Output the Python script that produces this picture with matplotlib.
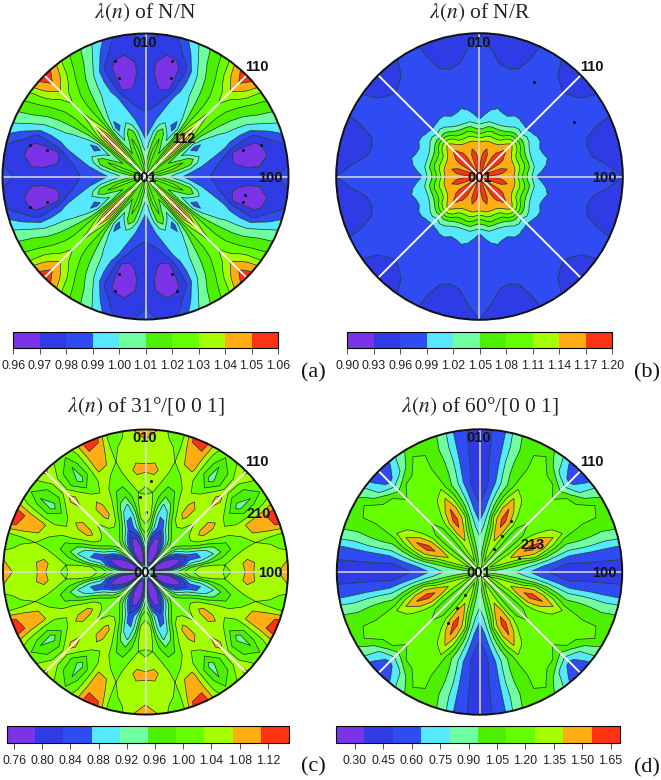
import numpy as np
import matplotlib
matplotlib.use("Agg")
import matplotlib.pyplot as plt
from matplotlib.patches import Circle

W, H = 661, 780
plt.rcParams['mathtext.fontset'] = 'stix'

radii = [0, .08, .16, .24, .32, .40, .48, .56, .64, .72, .80, .90, 1.0]
thetas = [0, 5, 10, 15, 20, 25, 30, 35, 40, 45]

values_a = [
 [1.020,1.020,1.020,1.020,1.020,1.020,1.020,1.020,1.020,1.020],
 [1.008,1.015,1.020,1.025,1.020,1.020,1.020,1.020,1.025,1.030],
 [1.002,1.005,1.015,1.022,1.020,1.015,1.012,1.018,1.032,1.042],
 [0.992,0.998,1.008,1.018,1.022,1.012,1.005,1.014,1.034,1.052],
 [0.985,0.990,1.000,1.012,1.018,1.005,0.997,1.008,1.036,1.058],
 [0.982,0.985,0.990,0.995,1.000,0.992,0.985,1.003,1.032,1.056],
 [0.979,0.980,0.984,0.990,0.994,0.993,0.994,1.006,1.025,1.042],
 [0.976,0.975,0.975,0.983,0.993,0.996,0.999,1.010,1.022,1.033],
 [0.975,0.972,0.968,0.968,0.986,0.995,1.002,1.012,1.021,1.030],
 [0.975,0.970,0.964,0.965,0.980,0.994,1.004,1.014,1.022,1.030],
 [0.975,0.970,0.965,0.966,0.976,0.995,1.007,1.017,1.026,1.035],
 [0.978,0.975,0.973,0.976,0.988,1.002,1.013,1.022,1.037,1.048],
 [0.985,0.980,0.975,0.984,0.996,1.006,1.016,1.026,1.046,1.058],
]
values_b = [
 [1.180,1.180,1.180,1.180,1.180,1.180,1.180,1.180,1.180,1.180],
 [1.160,1.175,1.180,1.185,1.175,1.160,1.160,1.175,1.190,1.195],
 [1.155,1.165,1.175,1.190,1.170,1.155,1.160,1.180,1.190,1.195],
 [1.140,1.145,1.150,1.150,1.150,1.150,1.155,1.160,1.165,1.180],
 [1.060,1.065,1.080,1.085,1.080,1.080,1.085,1.110,1.130,1.140],
 [0.990,1.000,1.010,1.005,1.005,1.010,1.020,1.030,1.040,1.030],
 [0.975,0.978,0.988,0.992,0.988,0.985,0.992,0.992,0.988,0.982],
 [0.970,0.970,0.975,0.978,0.975,0.972,0.975,0.975,0.972,0.970],
 [0.968,0.968,0.968,0.968,0.968,0.968,0.968,0.968,0.968,0.968],
 [0.965,0.965,0.965,0.965,0.965,0.965,0.965,0.965,0.965,0.965],
 [0.962,0.962,0.960,0.958,0.960,0.964,0.966,0.966,0.964,0.962],
 [0.962,0.960,0.955,0.950,0.955,0.962,0.964,0.962,0.958,0.954],
 [0.960,0.958,0.950,0.945,0.950,0.960,0.962,0.960,0.952,0.945],
]
values_c = [
 [1.00,1.00,1.00,1.00,1.00,1.00,1.00,1.00,1.00,1.00],
 [0.96,0.84,0.78,0.77,0.76,0.77,0.78,0.84,0.92,0.96],
 [0.93,0.84,0.78,0.77,0.76,0.77,0.79,0.83,0.93,0.97],
 [0.97,0.92,0.82,0.79,0.78,0.80,0.85,0.90,0.97,1.00],
 [1.02,1.00,0.92,0.87,0.84,0.90,0.95,0.99,1.01,1.01],
 [1.07,1.04,0.93,0.87,0.88,0.96,1.02,1.04,1.03,1.02],
 [1.07,1.04,0.97,0.90,0.93,1.00,1.06,1.085,1.05,1.03],
 [1.02,1.03,1.00,0.96,0.98,1.03,1.05,1.09,1.06,1.04],
 [1.04,1.05,1.03,1.00,1.00,1.04,1.03,1.05,1.07,1.07],
 [1.08,1.085,1.05,1.02,1.03,1.05,1.01,0.99,1.04,1.09],
 [1.06,1.06,1.05,1.03,1.07,1.08,1.00,0.93,0.98,1.05],
 [1.06,1.05,1.04,1.02,1.09,1.10,1.02,0.95,0.99,1.05],
 [1.09,1.07,1.02,1.01,1.12,1.13,1.04,1.00,1.03,1.08],
]
values_d = [
 [1.00,1.00,1.00,1.00,1.00,1.00,1.00,1.00,1.00,1.00],
 [0.92,0.95,1.00,1.10,1.20,1.25,1.20,1.10,1.05,1.05],
 [0.88,0.92,1.00,1.15,1.27,1.32,1.25,1.15,1.08,1.05],
 [0.82,0.87,0.98,1.14,1.32,1.40,1.30,1.15,1.08,1.05],
 [0.70,0.80,0.95,1.15,1.40,1.52,1.42,1.20,1.08,1.05],
 [0.58,0.70,0.90,1.28,1.48,1.62,1.48,1.28,1.10,1.08],
 [0.50,0.60,0.82,1.10,1.40,1.56,1.40,1.22,1.12,1.10],
 [0.45,0.52,0.72,0.95,1.22,1.42,1.28,1.18,1.12,1.10],
 [0.42,0.48,0.64,0.86,1.02,1.25,1.20,1.18,1.15,1.12],
 [0.40,0.50,0.64,0.88,1.03,1.13,1.12,1.12,1.12,1.10],
 [0.43,0.50,0.64,0.88,1.02,1.10,1.12,1.15,1.10,0.95],
 [0.46,0.50,0.63,0.85,1.00,1.10,1.15,0.95,0.72,0.60],
 [0.48,0.50,0.62,0.88,1.02,1.10,1.00,0.85,0.62,0.50],
]

levels_a = [0.96,0.97,0.98,0.99,1.00,1.01,1.02,1.03,1.04,1.05,1.06]
levels_b = [0.90,0.93,0.96,0.99,1.02,1.05,1.08,1.11,1.14,1.17,1.20]
levels_c = [0.75,0.79,0.83,0.87,0.91,0.95,0.99,1.03,1.07,1.11,1.15]
levels_d = [0.20,0.35,0.50,0.65,0.80,0.95,1.10,1.25,1.40,1.55,1.70]
ticks_a = levels_a
ticks_b = levels_b
ticks_c = [0.76,0.80,0.84,0.88,0.92,0.96,1.00,1.04,1.08,1.12]
ticks_d = [0.30,0.45,0.60,0.75,0.90,1.05,1.20,1.35,1.50,1.65]

dots_a_x = [-.215,-.187,.182,.178,-.811,-.687,.685,.808,.696,.685,-.687,-.806,-.187,-.215,.182,.217]
dots_a_y = [.811,.689,.811,.689,.217,.187,.187,.217,-.129,-.18,-.18,-.21,-.684,-.801,-.684,-.801]
dots_b_x = [.38,.66]
dots_b_y = [.66,.38]
dots_c_x = [-.04,.04,0.0]
dots_c_y = [.525,.64,.42]
dots_d_x = [.10,.16,.22,.28,-.10,-.16,-.22]
dots_d_y = [.16,.25,.36,.10,-.16,-.25,-.36]

band_colors = ['#7a33e6','#2f3ce6','#2f4cf2','#55e8ff','#70ffa0',
               '#4cf000','#66ff00','#a6ff00','#ffad12','#ff3312']

panels = [
 dict(v=values_a, lv=levels_a, tk=ticks_a, d=(dots_a_x,dots_a_y), c=(145.5,176.5), R=143,
      title=r'$\lambda(n)$ of N/N', ty=13, cb=(13.3,278,332,348), tag='(a)', tagpos=(313,373),
      poles=[('010',145,43),('110',257,67),('100',270,178),('001',145,178),('112',184,139)]),
 dict(v=values_b, lv=levels_b, tk=ticks_b, d=(dots_b_x,dots_b_y), c=(479.5,176.5), R=143.3,
      title=r'$\lambda(n)$ of N/R', ty=13, cb=(347.3,612,332,348), tag='(b)', tagpos=(647,373),
      poles=[('010',479,43),('110',592,67),('100',604,178),('001',480,178)]),
 dict(v=values_c, lv=levels_c, tk=ticks_c, d=(dots_c_x,dots_c_y), c=(145.5,572), R=142.5,
      title=r'$\lambda(n)$ of 31°/[0 0 1]', ty=407, cb=(7,289,726,743), tag='(c)', tagpos=(313,767),
      poles=[('010',145,438),('110',257,462),('100',270,573),('210',259,514),('001',145.6,573)]),
 dict(v=values_d, lv=levels_d, tk=ticks_d, d=(dots_d_x,dots_d_y), c=(479.5,572), R=142.7,
      title=r'$\lambda(n)$ of 60°/[0 0 1]', ty=407, cb=(336,620,726,743), tag='(d)', tagpos=(647,768),
      poles=[('010',479,438),('110',592,462),('100',604,573),('213',533,545),('001',479,573)]),
]

fig = plt.figure(figsize=(W/100, H/100), dpi=100, facecolor='white')

def mirror(table):
    t = np.array(table)
    # cubic symmetry of the pole figure: 0-45 deg is repeated around the circle
    quad = np.hstack([t, t[:, -2::-1]])
    half = np.hstack([quad, quad[:, -2::-1]])
    return np.hstack([half, half[:, -2:0:-1], half[:, :1]])

for p in panels:
    cx, cy = p['c']; R = p['R']
    ax = fig.add_axes([(cx-R-3)/W, 1-(cy+R+3)/H, (2*R+6)/W, (2*R+6)/H])
    pad = 1 + 3/R
    ax.set_xlim(-pad, pad); ax.set_ylim(-pad, pad); ax.set_aspect('equal'); ax.axis('off')
    Z = mirror(p['v'])
    ang = np.radians(np.arange(Z.shape[1]) * 360/(Z.shape[1]-1))
    rr = np.array(radii)
    X = np.outer(rr, np.cos(ang)); Y = np.outer(rr, np.sin(ang))
    cs = ax.contourf(X, Y, Z, levels=p['lv'], colors=band_colors, extend='neither', antialiased=True)
    ax.contour(X, Y, Z, levels=p['lv'], colors='#12301a', linewidths=0.5)
    ax.scatter(*p['d'], s=5, color='#101030', linewidths=0, zorder=3)
    for a in (0, 45, 90, 135):
        ca, sa = np.cos(np.radians(a)), np.sin(np.radians(a))
        col = '#dddddd' if a in (0, 90) else 'white'
        ax.plot([-ca, ca], [-sa, sa], color=col, lw=1.1 if a in (0, 90) else 1.3, zorder=4)
    ax.add_patch(Circle((0, 0), 1, fill=False, ec='#111111', lw=1.4, zorder=5))

    x0, x1, y0, y1 = p['cb']
    cax = fig.add_axes([x0/W, 1-y1/H, (x1-x0)/W, (y1-y0)/H])
    cb = fig.colorbar(cs, cax=cax, orientation='horizontal', ticks=p['tk'], drawedges=False)
    cb.ax.set_xticklabels(['%.2f' % t for t in p['tk']], fontfamily='Liberation Sans', fontsize=8.9, color='#222222')
    cb.ax.tick_params(length=4, width=0.6, pad=4.5, color='#333333')
    cb.outline.set_linewidth(0.8)

    fig.text(cx/W, 1-p['ty']/H, p['title'], family='Liberation Serif', fontsize=15.5,
             ha='center', va='center', color='#222222')
    fig.text(p['tagpos'][0]/W, 1-p['tagpos'][1]/H, p['tag'], family='Liberation Serif', fontsize=16,
             ha='center', va='center', color='#111111')
    for s, x, y in p['poles']:
        fig.text(x/W, 1-y/H, s, family='Liberation Sans', fontweight='bold', fontsize=10.5,
                 ha='center', va='center', color='#111111', zorder=10)

fig.savefig('out.png', dpi=100)
